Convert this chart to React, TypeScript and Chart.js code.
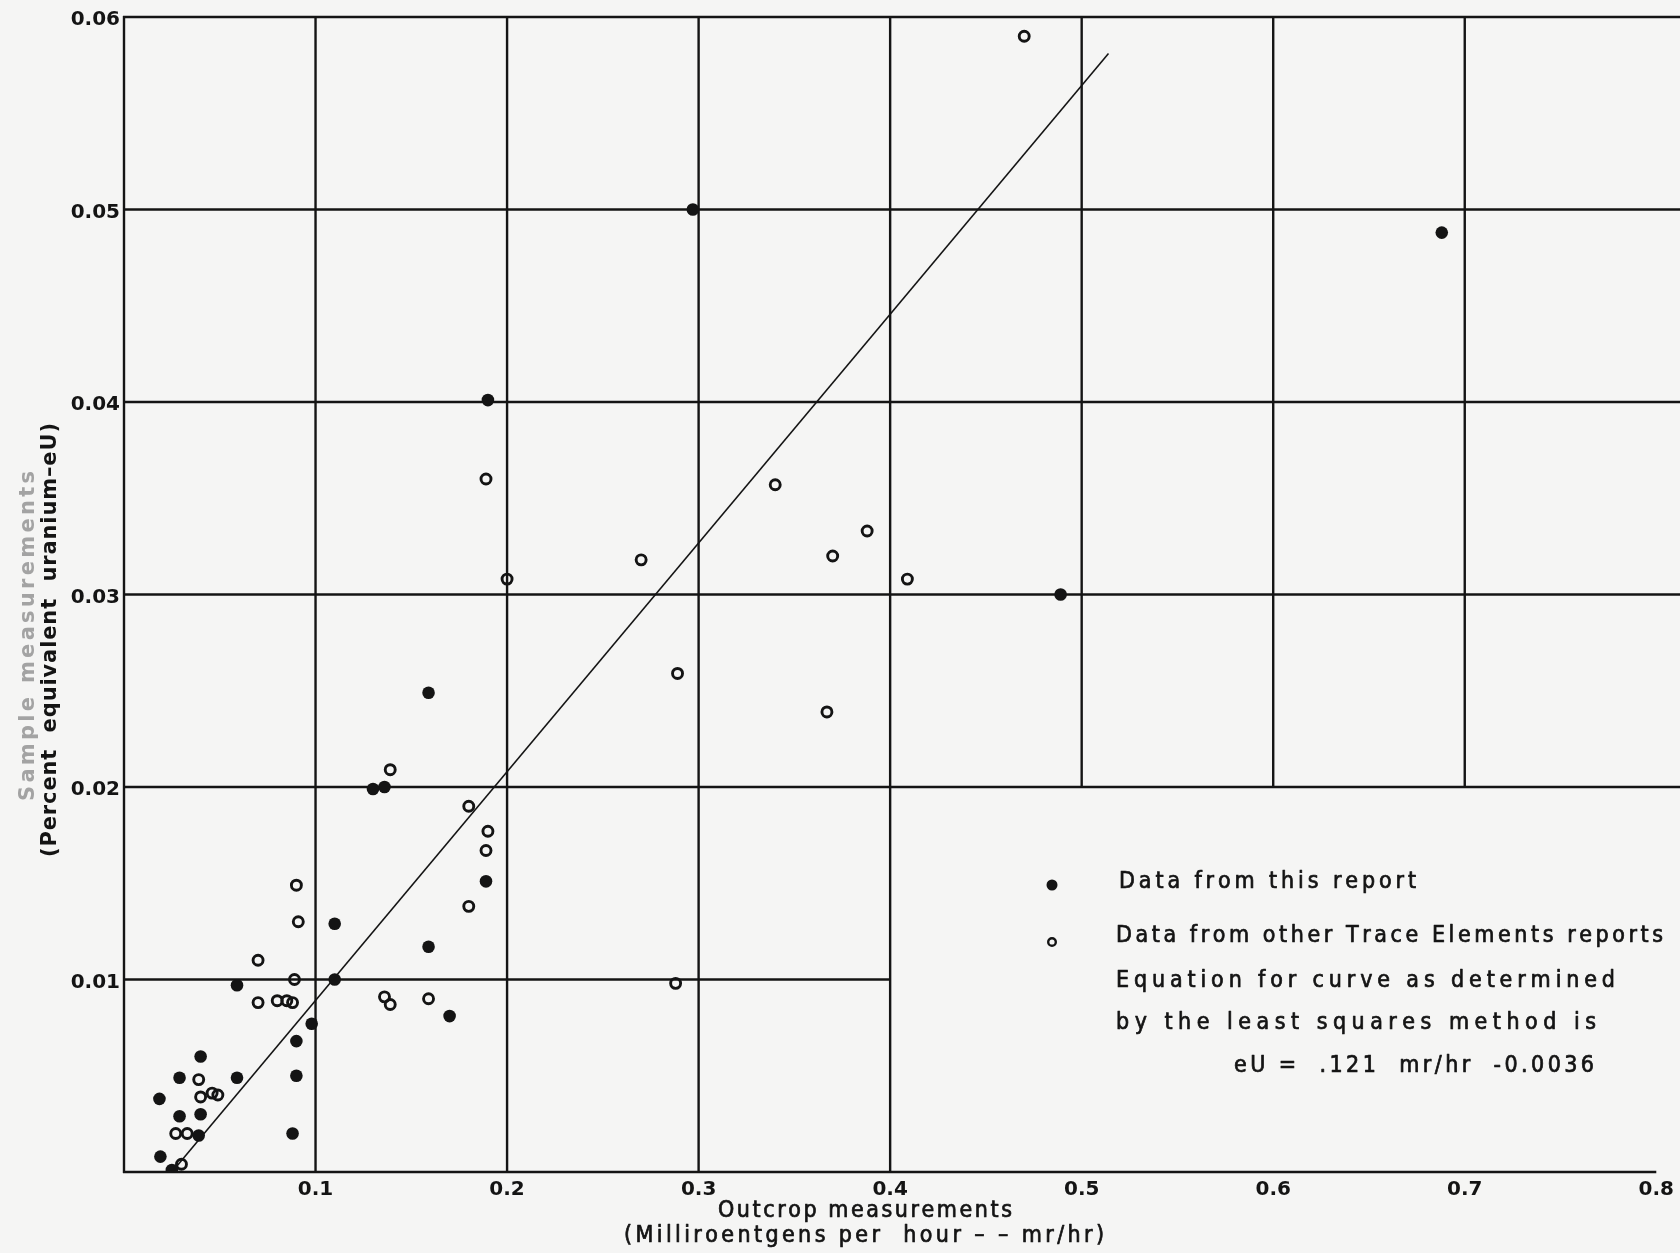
import React, { useEffect, useRef } from 'react';
import { Chart, registerables } from 'chart.js';

Chart.register(...registerables);

// ---- Data ----
const xTickValues = [0, 0.1, 0.2, 0.3, 0.4, 0.5, 0.6, 0.7, 0.8];
const yTickValues = [0, 0.01, 0.02, 0.03, 0.04, 0.05, 0.06];

// Data from this report (filled dots): outcrop mr/hr vs eU %
const thisReportX = [0.489, 0.688, 0.297, 0.190, 0.159, 0.130, 0.136, 0.189, 0.110, 0.159, 0.110, 0.059, 0.170, 0.098, 0.090, 0.040, 0.029, 0.059, 0.090, 0.0185, 0.029, 0.040, 0.039, 0.088, 0.019, 0.025];
const thisReportY = [0.0300, 0.0488, 0.0500, 0.0401, 0.0249, 0.0199, 0.0200, 0.0151, 0.0129, 0.0117, 0.0100, 0.0097, 0.0081, 0.0077, 0.0068, 0.0060, 0.0049, 0.0049, 0.0050, 0.0038, 0.0029, 0.0030, 0.0019, 0.0020, 0.0008, 0.0001];

// Data from other Trace Elements reports (open circles)
const otherReportsX = [0.470, 0.340, 0.388, 0.370, 0.270, 0.409, 0.200, 0.189, 0.289, 0.367, 0.139, 0.180, 0.190, 0.189, 0.180, 0.090, 0.091, 0.070, 0.089, 0.288, 0.136, 0.139, 0.159, 0.070, 0.080, 0.085, 0.088, 0.039, 0.046, 0.049, 0.040, 0.027, 0.033, 0.030];
const otherReportsY = [0.0590, 0.0357, 0.0333, 0.0320, 0.0318, 0.0308, 0.0308, 0.0360, 0.0259, 0.0239, 0.0209, 0.0190, 0.0177, 0.0167, 0.0138, 0.0149, 0.0130, 0.0110, 0.0100, 0.0098, 0.0091, 0.0087, 0.0090, 0.0088, 0.0089, 0.0089, 0.0088, 0.0048, 0.0041, 0.0040, 0.0039, 0.0020, 0.0020, 0.0004];

// Least-squares line as drawn (end points)
const fitLineX = [0.025, 0.514];
const fitLineY = [0.0, 0.0581];

const legendLabels = ['Data from this report', 'Data from other Trace Elements reports'];
const equationLines = ['Equation for curve as determined', 'by the least squares method is', 'eU =  .121  mr/hr  -0.0036'];
const xTitleLines = ['Outcrop measurements', '(Milliroentgens per  hour – – mr/hr)'];
const yTitleLines = ['Sample measurements', '(Percent  equivalent  uranium–eU)'];

const INK = '#141414';
const PAPER = '#f5f5f4';
const LETTER_FONT = "23px 'DejaVu Sans Condensed', 'DejaVu Sans', sans-serif";
const TICK_FONT = "bold 20px 'DejaVu Sans', sans-serif";

function drawSpaced(ctx: CanvasRenderingContext2D, text: string, x: number, y: number, width: number, stroke = 0) {
  const chars = Array.from(text);
  const widths = chars.map((c) => ctx.measureText(c).width);
  const total = widths.reduce((a, b) => a + b, 0);
  const gap = chars.length > 1 ? (width - total) / (chars.length - 1) : 0;
  let cx = x;
  if (stroke > 0) {
    ctx.lineWidth = stroke;
    ctx.strokeStyle = ctx.fillStyle as string;
    ctx.lineJoin = 'round';
  }
  chars.forEach((c, i) => {
    ctx.fillText(c, cx, y);
    if (stroke > 0) ctx.strokeText(c, cx, y);
    cx += widths[i] + gap;
  });
}

const paperPlugin = {
  id: 'paper',
  beforeDraw(chart: any) {
    const { ctx, width, height } = chart;
    ctx.save();
    ctx.fillStyle = PAPER;
    ctx.fillRect(0, 0, width, height);
    ctx.restore();
  },
};

const gridPlugin = {
  id: 'customGrid',
  beforeDatasetsDraw(chart: any) {
    const { ctx } = chart;
    const xs = chart.scales.x;
    const ys = chart.scales.y;
    ctx.save();
    ctx.strokeStyle = INK;
    ctx.lineWidth = 2.4;
    ctx.lineCap = 'butt';
    const seg = (x1: number, y1: number, x2: number, y2: number) => {
      ctx.beginPath();
      ctx.moveTo(x1, y1);
      ctx.lineTo(x2, y2);
      ctx.stroke();
    };
    const yTop = ys.getPixelForValue(0.06);
    const yBottom = ys.getPixelForValue(0);
    // vertical lines
    xTickValues.forEach((v) => {
      if (v >= 0.75) return;
      const px = xs.getPixelForValue(v);
      const bottom = v >= 0.45 ? ys.getPixelForValue(0.02) : yBottom;
      seg(px, yTop - 1, px, bottom + 1);
    });
    // horizontal lines
    yTickValues.forEach((v) => {
      const py = ys.getPixelForValue(v);
      let right: number;
      if (Math.abs(v - 0.01) < 1e-9) right = xs.getPixelForValue(0.4);
      else if (v === 0) right = xs.getPixelForValue(0.8);
      else right = chart.width;
      seg(xs.getPixelForValue(0) - 1, py, right, py);
    });
    ctx.restore();
  },
};

const textPlugin = {
  id: 'texts',
  afterDraw(chart: any) {
    const { ctx } = chart;
    const ys = chart.scales.y;
    const xs = chart.scales.x;
    ctx.save();
    ctx.fillStyle = INK;

    // y tick labels
    ctx.font = TICK_FONT;
    ctx.textAlign = 'right';
    ctx.textBaseline = 'middle';
    yTickValues.forEach((v) => {
      if (v === 0) return;
      ctx.fillText(v.toFixed(2), xs.left - 4, ys.getPixelForValue(v) + 3);
    });

    ctx.textBaseline = 'middle';
    ctx.textAlign = 'left';

    // legend markers
    ctx.beginPath();
    ctx.arc(1052, 885, 5.5, 0, Math.PI * 2);
    ctx.fill();
    ctx.beginPath();
    ctx.lineWidth = 2.4;
    ctx.strokeStyle = INK;
    ctx.arc(1052, 942, 3.8, 0, Math.PI * 2);
    ctx.stroke();

    ctx.fillStyle = INK;
    ctx.font = LETTER_FONT;
    drawSpaced(ctx, legendLabels[0], 1119, 882, 297, 0.7);
    drawSpaced(ctx, legendLabels[1], 1116, 936, 547, 0.7);
    drawSpaced(ctx, equationLines[0], 1116, 981, 499, 0.7);
    drawSpaced(ctx, equationLines[1], 1116, 1023, 480, 0.7);
    drawSpaced(ctx, equationLines[2], 1234, 1066, 360, 0.7);

    // x-axis title
    ctx.font = LETTER_FONT;
    drawSpaced(ctx, xTitleLines[0], 865 - 147, 1211, 294, 0.7);
    drawSpaced(ctx, xTitleLines[1], 864 - 240, 1236, 480, 0.7);

    // y-axis title (rotated)
    ctx.save();
    ctx.translate(29, 636);
    ctx.rotate(-Math.PI / 2);
    ctx.fillStyle = '#a3a3a3';
    ctx.font = "bold 21px 'DejaVu Sans', sans-serif";
    drawSpaced(ctx, yTitleLines[0], -165, 0, 330);
    ctx.restore();

    ctx.save();
    ctx.translate(51, 640);
    ctx.rotate(-Math.PI / 2);
    ctx.fillStyle = INK;
    ctx.font = "bold 21px 'DejaVu Sans', sans-serif";
    drawSpaced(ctx, yTitleLines[1], -217, 0, 434);
    ctx.restore();

    ctx.restore();
  },
};

export default function App() {
  const canvasRef = useRef<HTMLCanvasElement | null>(null);

  useEffect(() => {
    const canvas = canvasRef.current;
    if (!canvas) return;
    const filled = thisReportX.map((x, i) => ({ x, y: thisReportY[i] }));
    const open = otherReportsX.map((x, i) => ({ x, y: otherReportsY[i] }));
    const fit = fitLineX.map((x, i) => ({ x, y: fitLineY[i] }));

    const tickFont = { family: "'DejaVu Sans', sans-serif", weight: 'bold' as const, size: 20 };

    const chart = new Chart(canvas, {
      type: 'scatter',
      data: {
        datasets: [
          {
            label: 'Least squares line',
            data: fit,
            showLine: true,
            borderColor: INK,
            borderWidth: 1.6,
            pointRadius: 0,
            fill: false,
          } as any,
          {
            label: legendLabels[0],
            data: filled,
            pointRadius: 6.3,
            pointBackgroundColor: INK,
            pointBorderWidth: 0,
            borderColor: INK,
          },
          {
            label: legendLabels[1],
            data: open,
            pointRadius: 5,
            pointBackgroundColor: 'rgba(0,0,0,0)',
            pointBorderColor: INK,
            pointBorderWidth: 2.9,
          },
        ],
      },
      options: {
        animation: false,
        responsive: false,
        devicePixelRatio: 1,
        events: [],
        layout: { padding: { left: 0, top: 17, right: 20, bottom: 0 } },
        plugins: {
          legend: { display: false },
          tooltip: { enabled: false },
        },
        scales: {
          x: {
            type: 'linear',
            min: 0,
            max: 0.8,
            grid: { display: false, drawTicks: false, tickLength: 0 },
            border: { display: false },
            afterBuildTicks: (scale: any) => {
              scale.ticks = xTickValues.map((v) => ({ value: v }));
            },
            afterFit: (scale: any) => {
              scale.height = 81;
            },
            ticks: {
              color: INK,
              font: tickFont,
              padding: 6,
              maxRotation: 0,
              autoSkip: false,
              callback: (v: any) => (Number(v) === 0 ? '' : Number(v).toFixed(1)),
            },
          },
          y: {
            type: 'linear',
            min: 0,
            max: 0.06,
            grid: { display: false, drawTicks: false, tickLength: 0 },
            border: { display: false },
            afterBuildTicks: (scale: any) => {
              scale.ticks = yTickValues.map((v) => ({ value: v }));
            },
            afterFit: (scale: any) => {
              scale.width = 124;
            },
            ticks: { display: false },
          },
        },
      },
      plugins: [paperPlugin, gridPlugin, textPlugin],
    });

    return () => chart.destroy();
  }, []);

  return (
    <div style={{ position: 'absolute', left: 0, top: 0, width: 1680, height: 1253, background: PAPER }}>
      <canvas ref={canvasRef} width={1680} height={1253} style={{ display: 'block', width: 1680, height: 1253 }} />
    </div>
  );
}
